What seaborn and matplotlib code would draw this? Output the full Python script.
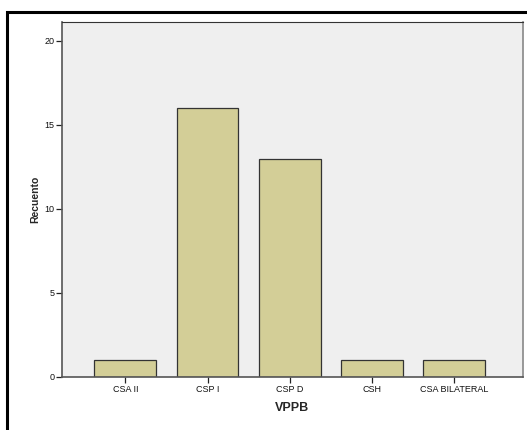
import numpy as np
import pandas as pd
import matplotlib
matplotlib.use("Agg")
import matplotlib.pyplot as plt
import seaborn as sns
from matplotlib.patches import Rectangle

categorias = ["CSA II", "CSP I", "CSP D", "CSH", "CSA BILATERAL"]
recuento = [1, 16, 13, 1, 1]
ticks_y = [0, 5, 10, 15, 20]

sns.set_style("white")
plt.rcParams["font.family"] = ["Liberation Sans", "DejaVu Sans"]

df = pd.DataFrame({"VPPB": categorias, "Recuento": recuento})

fig = plt.figure(figsize=(5.27, 4.30), dpi=100)
ax = fig.add_axes([62 / 527, 1 - 377 / 430, (522.5 - 62) / 527, (377 - 22) / 430])
ax.set_facecolor("#efefef")

sns.barplot(data=df, x="VPPB", y="Recuento", color="#d3ce97", width=0.75,
            edgecolor="#333333", linewidth=0.9, saturation=1, ax=ax)

ax.set_xlim(-0.77, 4.83)
ax.set_ylim(0, 21.13)
ax.set_yticks(ticks_y)
ax.tick_params(axis="both", direction="out", length=4, width=0.9, color="#222222",
               labelsize=6.5, labelcolor="#111111", pad=1.5, left=True, bottom=True)
ax.set_xlabel("VPPB", fontsize=9, fontweight="bold", labelpad=6)
ax.set_ylabel("Recuento", fontsize=7.5, fontweight="bold", labelpad=3)

for side in ["left", "bottom"]:
    ax.spines[side].set_color("#555555")
    ax.spines[side].set_linewidth(1.2)
ax.spines["top"].set_color("#333333")
ax.spines["top"].set_linewidth(0.8)
ax.spines["right"].set_color("#888888")
ax.spines["right"].set_linewidth(1.2)

# marco exterior
fig.patches.append(Rectangle((7 / 527, -0.05), 1.1, 1 - 12 / 430 + 0.05,
                             transform=fig.transFigure, fill=False,
                             edgecolor="black", linewidth=2.2, zorder=-1))

fig.savefig("out.png", dpi=100)
